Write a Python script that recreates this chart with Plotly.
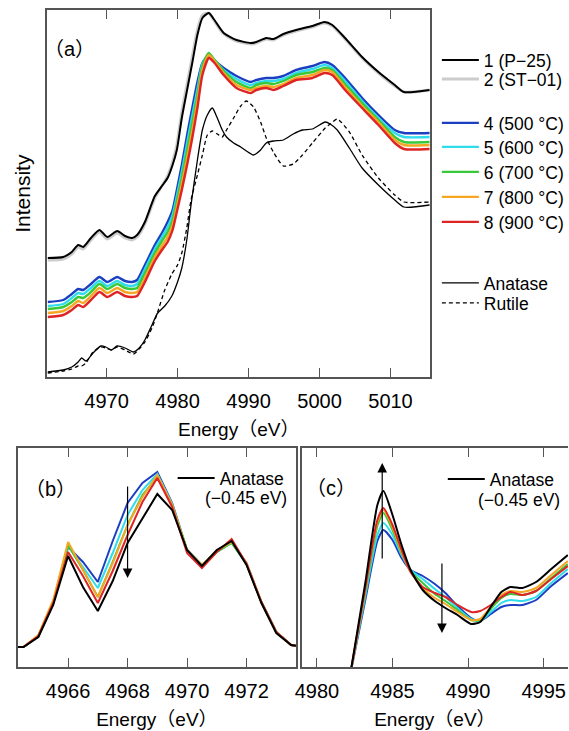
import plotly.graph_objects as go

W, H = 569, 731
FONT = "Liberation Sans, Noto Sans CJK JP, sans-serif"

# ---------------- panel (a): normalized XANES (arbitrary units, offset) ----------------
energy_a = [4961.7, 4963.9, 4965.1, 4966.0, 4966.7, 4967.8, 4969.0, 4970.1, 4971.5, 4972.6,
            4973.6, 4974.3, 4975.4, 4976.8, 4977.8, 4978.6, 4979.3, 4979.9, 4980.6, 4981.4,
            4982.1, 4982.8, 4983.5, 4984.4, 4985.1, 4986.5, 4988.3, 4990.3, 4991.1, 4992.5,
            4993.5, 4994.9, 4996.7, 4999.0, 5000.7, 5001.8, 5003.6, 5006.0, 5008.3, 5010.6,
            5011.9, 5015.5]
int_p25 = [119, 120, 125, 132, 130, 139, 147, 140, 146, 141, 139, 142, 155, 181, 191, 199, 212, 227, 259, 289,
           315, 342, 359, 364, 358, 344, 337, 334, 335, 339, 338, 343, 347, 351, 355, 352, 339, 320, 305, 292,
           285, 287]
int_st01 = [117, 118, 123, 130, 128, 137, 145, 138, 144, 139, 137, 140, 153, 179, 191, 201, 215, 232, 265, 295,
            321, 347, 362, 364, 357, 343, 336, 333, 334, 338, 337, 342, 346, 350, 354, 351, 338, 319, 304, 291,
            285, 287]
int_500 = [75, 77, 83, 88, 87, 93, 100, 95, 100, 96, 95, 97, 112, 132, 144, 155, 167, 187, 212, 244,
           270, 295, 314, 322, 317, 309, 301, 295, 297, 299, 299, 301, 307, 311, 315, 312, 299, 279, 262, 247,
           244, 244]
int_600 = [71, 73, 79, 84, 83, 89, 96, 91, 96, 92, 91, 93, 108, 128, 140, 150, 162, 181, 205, 236,
           262, 288, 313, 323, 318, 307, 298, 292, 294, 296, 296, 298, 304, 308, 312, 309, 296, 276, 259, 244,
           240, 240]
int_700 = [68, 70, 75, 80, 79, 85, 93, 88, 93, 89, 88, 89, 104, 124, 136, 145, 157, 176, 199, 229,
           255, 282, 311, 324, 318, 306, 295, 289, 292, 294, 293, 296, 302, 305, 309, 307, 293, 274, 257, 240,
           235, 235]
int_800 = [64, 66, 71, 76, 74, 81, 89, 84, 89, 85, 84, 85, 99, 120, 131, 140, 152, 170, 193, 221,
           247, 276, 307, 322, 317, 304, 292, 287, 289, 291, 290, 293, 299, 302, 307, 305, 290, 271, 255, 237,
           232, 232]
int_900 = [60, 62, 67, 72, 70, 77, 85, 80, 85, 81, 80, 81, 95, 116, 127, 135, 147, 165, 187, 214,
           240, 269, 302, 319, 315, 302, 289, 284, 287, 289, 287, 291, 297, 299, 304, 302, 287, 269, 252, 234,
           228, 228]

energy_ref = [4961.7, 4963.9, 4965.1, 4966.0, 4966.5, 4967.1, 4968.1, 4969.2, 4969.9, 4970.7,
              4971.5, 4972.6, 4973.8, 4974.6, 4975.4, 4976.4, 4977.2, 4978.2, 4979.2, 4980.0,
              4980.6, 4981.3, 4981.9, 4982.8, 4983.5, 4984.2, 4984.9, 4985.6, 4986.3, 4986.9,
              4987.9, 4988.9, 4989.7, 4990.7, 4991.7, 4992.5, 4993.5, 4994.9, 4996.3, 4997.6,
              4999.0, 5000.8, 5001.5, 5002.5, 5004.2, 5006.0, 5008.3, 5010.6, 5011.9, 5015.5]
int_anatase = [5, 7, 10, 15, 19, 16, 24, 31, 30, 27, 31, 29, 25, 29, 37, 52, 64, 71, 81, 95,
               109, 137, 172, 217, 247, 262, 269, 259, 247, 240, 234, 230, 226, 222, 227, 234, 236, 237, 243, 247,
               248, 255, 253, 247, 229, 209, 192, 177, 170, 172]
int_rutile = [4, 6, 8, 11, 11, 14, 25, 30, 29, 27, 30, 27, 23, 28, 35, 49, 65, 87, 103, 112,
              124, 149, 177, 202, 222, 242, 246, 243, 240, 247, 259, 271, 276, 270, 255, 239, 225, 211, 213, 222,
              234, 249, 253, 258, 245, 222, 199, 182, 175, 175]

# ---------------- panel (b): pre-edge ----------------
energy_b = [4964.3, 4964.5, 4965.0, 4965.5, 4966.0, 4966.5, 4967.0, 4967.5, 4968.0, 4968.5,
            4969.0, 4969.5, 4970.0, 4970.5, 4971.0, 4971.5, 4972.0, 4972.5, 4973.0, 4973.5, 4973.7]
b_anatase = [20, 20, 30, 62, 111, 80, 56, 86, 124, 149, 173, 157, 117, 101, 117, 126, 102, 64, 34, 22, 21]
b_500 = [20, 20, 31, 64, 120, 105, 85, 126, 164, 184, 195, 164, 117, 102, 115, 125, 104, 65, 35, 22, 21]
b_600 = [20, 20, 31, 65, 121, 100, 79, 114, 152, 177, 193, 163, 117, 102, 115, 124, 103, 65, 35, 22, 21]
b_700 = [20, 20, 31, 65, 122, 97, 70, 105, 142, 172, 190, 162, 117, 102, 115, 124, 103, 65, 35, 22, 21]
b_800 = [20, 20, 32, 67, 125, 97, 70, 104, 142, 170, 192, 162, 117, 102, 116, 125, 104, 65, 35, 22, 21]
b_900 = [20, 20, 31, 64, 115, 91, 64, 96, 132, 165, 189, 160, 114, 99, 115, 128, 103, 65, 35, 22, 21]

# ---------------- panel (c): white line ----------------
energy_c = [4982.2, 4983.2, 4984.0, 4984.4, 4985.0, 4985.6, 4986.2, 4987.0, 4987.8, 4988.5,
            4989.3, 4990.2, 4990.8, 4991.5, 4992.2, 4992.8, 4993.6, 4994.5, 4995.5, 4996.6]
c_anatase = [-8, 84, 162, 176, 152, 122, 97, 77, 66, 59, 52, 43, 45, 60, 75, 80, 79, 85, 98, 112]
c_900 = [-8, 79, 147, 159, 142, 117, 95, 80, 74, 70, 62, 55, 56, 62, 70, 75, 72, 76, 88, 101]
c_800 = [-8, 77, 145, 157, 140, 115, 95, 79, 69, 63, 55, 47, 48, 60, 72, 76, 75, 79, 92, 106]
c_700 = [-8, 75, 141, 154, 137, 114, 96, 84, 73, 66, 57, 47, 47, 58, 69, 73, 72, 76, 89, 103]
c_600 = [-8, 71, 132, 144, 132, 112, 97, 88, 78, 70, 59, 48, 46, 55, 64, 67, 66, 70, 84, 98]
c_500 = [-8, 67, 126, 137, 127, 109, 97, 91, 83, 74, 61, 49, 46, 53, 60, 62, 62, 67, 81, 94]

# ---------------- labels / colours ----------------
names_samples = ["4 (500 °C)", "5 (600 °C)", "6 (700 °C)", "7 (800 °C)", "8 (900 °C)"]
colors_samples = ["#1c3fc2", "#2fdcec", "#38c838", "#f5a623", "#de2424"]
ticks_a = [4970, 4980, 4990, 5000, 5010]
ticks_b = [4966, 4968, 4970, 4972]
ticks_c = [4980, 4985, 4990, 4995]

fig = go.Figure()

def px2x(p):
    return p / W

def py2y(p):
    return 1 - p / H

# panel (a) traces
fig.add_trace(go.Scatter(x=energy_ref, y=int_anatase, mode="lines", name="Anatase",
                         line=dict(color="black", width=1.3, shape="spline", smoothing=0.6),
                         xaxis="x", yaxis="y", legend="legend8"))
fig.add_trace(go.Scatter(x=energy_ref, y=int_rutile, mode="lines", name="Rutile",
                         line=dict(color="black", width=1.3, dash="4px,3px", shape="spline", smoothing=0.6),
                         xaxis="x", yaxis="y", legend="legend9"))
samples_a = [int_500, int_600, int_700, int_800, int_900]
for i, (nm, col, ys) in enumerate(zip(names_samples, colors_samples, samples_a)):
    fig.add_trace(go.Scatter(x=energy_a, y=ys, mode="lines", name=nm,
                             line=dict(color=col, width=2.4, shape="spline", smoothing=0.6),
                             xaxis="x", yaxis="y", legend="legend%d" % (i + 3)))
fig.add_trace(go.Scatter(x=energy_a, y=int_st01, mode="lines", name="2 (ST−01)",
                         line=dict(color="#cccccc", width=3.0, shape="spline", smoothing=0.6),
                         xaxis="x", yaxis="y", legend="legend2"))
fig.add_trace(go.Scatter(x=energy_a, y=int_p25, mode="lines", name="1 (P−25)",
                         line=dict(color="black", width=2.0, shape="spline", smoothing=0.6),
                         xaxis="x", yaxis="y", legend="legend"))

# panel (b)
for nm, col, ys in zip(names_samples, colors_samples, [b_500, b_600, b_700, b_800, b_900]):
    fig.add_trace(go.Scatter(x=energy_b, y=ys, mode="lines", name=nm, showlegend=False,
                             line=dict(color=col, width=2.0), xaxis="x2", yaxis="y2"))
fig.add_trace(go.Scatter(x=energy_b, y=b_anatase, mode="lines", name="Anatase",
                         line=dict(color="black", width=2.0), xaxis="x2", yaxis="y2", legend="legend10"))

# panel (c)
for nm, col, ys in zip(names_samples, colors_samples, [c_500, c_600, c_700, c_800, c_900]):
    fig.add_trace(go.Scatter(x=energy_c, y=ys, mode="lines", name=nm, showlegend=False,
                             line=dict(color=col, width=2.0, shape="spline", smoothing=0.6),
                             xaxis="x3", yaxis="y3"))
fig.add_trace(go.Scatter(x=energy_c, y=c_anatase, mode="lines", name="Anatase",
                         line=dict(color="black", width=2.0, shape="spline", smoothing=0.6),
                         xaxis="x3", yaxis="y3", legend="legend11"))

AX = "#555555"
xcommon = dict(showgrid=False, zeroline=False, showline=True, linecolor=AX, linewidth=1.5,
               mirror="ticks", ticks="inside", ticklen=9, tickwidth=1.3, tickcolor=AX,
               tickfont=dict(size=20, color="black", family=FONT), ticklabelstandoff=5,
               title=dict(text="Energy（eV）", font=dict(size=19, color="black", family=FONT), standoff=12))
ycommon = dict(showgrid=False, zeroline=False, showline=True, linecolor=AX, linewidth=1.5,
               ticks="", showticklabels=False)

layout = dict(
    width=W, height=H, margin=dict(l=0, r=0, t=0, b=0),
    paper_bgcolor="white", plot_bgcolor="white",
    font=dict(family=FONT, color="black"),
    showlegend=True,
    xaxis=dict(domain=[41 / W, 429 / W], range=[4961.67, 5015.56], tickvals=ticks_a, anchor="y", **xcommon),
    yaxis=dict(domain=[1 - 377 / H, 1 - 10 / H], range=[0, 367], anchor="x", mirror=True, **ycommon),
    xaxis2=dict(domain=[11 / W, 293 / W], range=[4964.31, 4973.66], tickvals=ticks_b, anchor="y2", **xcommon),
    yaxis2=dict(domain=[1 - 667 / H, 1 - 448 / H], range=[0, 219], anchor="x2", mirror=True, **ycommon),
    xaxis3=dict(domain=[299 / W, 1.0], range=[4979.0, 4996.61], tickvals=ticks_c, anchor="y3", **xcommon),
    yaxis3=dict(domain=[1 - 667 / H, 1 - 448 / H], range=[0, 219], anchor="x3", mirror=False, **ycommon),
)

# one legend per entry so that each sits where the original key sits
legend_pos = {"legend": (441, 60), "legend2": (441, 79), "legend3": (441, 123), "legend4": (441, 147),
              "legend5": (441, 172), "legend6": (441, 197), "legend7": (441, 222),
              "legend8": (441, 283), "legend9": (441, 303), "legend10": (173, 478), "legend11": (447, 479)}
for key, (lx, ly) in legend_pos.items():
    layout[key] = dict(x=px2x(lx - 5), y=py2y(ly), xanchor="left", yanchor="middle",
                       bgcolor="rgba(0,0,0,0)", borderwidth=0, itemwidth=37,
                       font=dict(size=17.5, color="black", family=FONT))

fig.update_layout(**layout)

annos = [
    dict(text="（a）", x=px2x(63), y=py2y(49), xref="paper", yref="paper", showarrow=False,
         font=dict(size=20), xanchor="center", yanchor="middle"),
    dict(text="（b）", x=px2x(44), y=py2y(489), xref="paper", yref="paper", showarrow=False,
         font=dict(size=20), xanchor="center", yanchor="middle"),
    dict(text="（c）", x=px2x(329), y=py2y(488), xref="paper", yref="paper", showarrow=False,
         font=dict(size=20), xanchor="center", yanchor="middle"),
    dict(text="Intensity", x=px2x(15), y=py2y(193), xref="paper", yref="paper", showarrow=False,
         font=dict(size=21), textangle=-90, xanchor="center", yanchor="middle"),
    dict(text="(−0.45 eV)", x=px2x(286), y=py2y(498), xref="paper", yref="paper", showarrow=False,
         font=dict(size=17.5), xanchor="right", yanchor="middle"),
    dict(text="(−0.45 eV)", x=px2x(563), y=py2y(500), xref="paper", yref="paper", showarrow=False,
         font=dict(size=17.5), xanchor="right", yanchor="middle"),
    # arrows
    dict(x=4968.0, y=89, ax=4968.0, ay=182, xref="x2", yref="y2", axref="x2", ayref="y2", text="",
         showarrow=True, arrowhead=2, arrowsize=1.6, arrowwidth=1.2, arrowcolor="black"),
    dict(x=4984.32, y=204, ax=4984.32, ay=107, xref="x3", yref="y3", axref="x3", ayref="y3", text="",
         showarrow=True, arrowhead=2, arrowsize=1.6, arrowwidth=1.2, arrowcolor="black"),
    dict(x=4988.27, y=34, ax=4988.27, ay=105, xref="x3", yref="y3", axref="x3", ayref="y3", text="",
         showarrow=True, arrowhead=2, arrowsize=1.6, arrowwidth=1.2, arrowcolor="black"),
]
fig.update_layout(annotations=annos)

fig.write_html("out.html", config={"displayModeBar": False})
